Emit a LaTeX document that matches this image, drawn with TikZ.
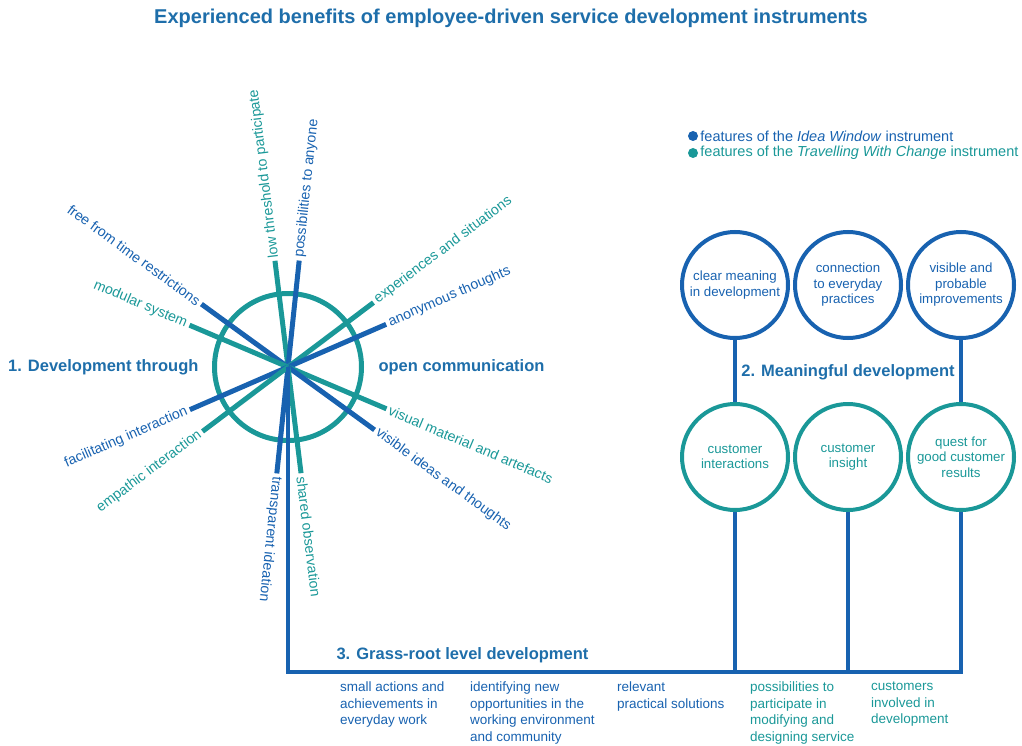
\documentclass[tikz,border=0pt]{standalone}
\usepackage{fontspec}
\setmainfont{Liberation Sans}
\definecolor{iwblue}{RGB}{24,98,176}
\definecolor{twcteal}{RGB}{26,152,152}
\definecolor{headblue}{RGB}{30,110,170}

\begin{document}
\begin{tikzpicture}[x=1pt,y=1pt,line cap=butt,
  lbl/.style={font=\fontsize{13.5}{16.5}\selectfont,inner sep=2pt},
  ray/.style={font=\fontsize{14.2}{17}\selectfont,inner sep=3pt},
  head/.style={font=\fontsize{16.5}{20}\selectfont\bfseries,text=headblue},
  benefit/.style={circle,draw,line width=4pt,minimum size=106pt,inner sep=0pt,align=center,font=\fontsize{13.3}{15.5}\selectfont},
  spoke/.style={line width=5pt}]
\useasboundingbox (0,0) rectangle (1022,-746);
\def\R{73.5}\def\L{107}
\node[font=\fontsize{20}{24}\selectfont\bfseries,text=headblue] (title) at (511,-18) {Experienced benefits of employee-driven service development instruments};
% legend
\node[circle,fill=iwblue,inner sep=0pt,minimum size=10pt] (dotIW) at (693,-136) {};
\node[circle,fill=twcteal,inner sep=0pt,minimum size=10pt] (dotTWC) at (693,-153) {};
\node[lbl,font=\fontsize{14.5}{17}\selectfont,anchor=west,text=iwblue] (keyIW) at (dotIW.east) {features of the \textit{Idea Window} instrument};
\node[lbl,font=\fontsize{14.5}{17}\selectfont,anchor=west,text=twcteal] (keyTWC) at (dotTWC.east) {features of the \textit{Travelling With Change} instrument};
% 1. wheel
\coordinate (hub) at (288,-367);
\coordinate (barL) at (288,-672);
\draw[twcteal,line width=5pt] (hub) circle (\R);
\foreach \n/\a/\c/\t in {1/97/twcteal/low threshold to participate,2/84/iwblue/possibilities to anyone,3/37/twcteal/experiences and situations,4/23.5/iwblue/anonymous thoughts,5/-23/twcteal/visual material and artefacts,6/-36/iwblue/visible ideas and thoughts,7/-83/twcteal/shared observation,8/-96/iwblue/transparent ideation}{
  \path (hub) ++(\a:\L) coordinate (s\n);
  \draw[spoke,\c] (hub) -- (s\n);
  \node[ray,text=\c,anchor=west,rotate=\a] (t\n) at (s\n) {\t};
}
\foreach \n/\a/\c/\t in {9/144/iwblue/free from time restrictions,10/157/twcteal/modular system,11/203.5/iwblue/facilitating interaction,12/217/twcteal/empathic interaction}{
  \path (hub) ++(\a:\L) coordinate (s\n);
  \draw[spoke,\c] (hub) -- (s\n);
  \node[ray,text=\c,anchor=east,rotate=\a-180] (t\n) at (s\n) {\t};
}
\node[head,anchor=east] (dev1a) at (202,-367) {1. Development through};
\node[head,anchor=west] (dev1b) at (375,-367) {open communication};
% 2. circles
\node[benefit,draw=iwblue,text=iwblue] (b1) at (735,-285) {clear meaning\\in development};
\node[benefit,draw=iwblue,text=iwblue] (b2) at (848,-285) {connection\\to everyday\\practices};
\node[benefit,draw=iwblue,text=iwblue] (b3) at (961,-285) {visible and\\probable\\improvements};
\node[benefit,draw=twcteal,text=twcteal] (b4) at (735,-457) {customer\\interactions};
\node[benefit,draw=twcteal,text=twcteal] (b5) at (848,-457) {customer\\insight};
\node[benefit,draw=twcteal,text=twcteal] (b6) at (961,-457) {quest for\\good customer\\results};
\draw[iwblue,line width=4pt] (b1.south) -- (b4.north) (b3.south) -- (b6.north);
\node[head] (dev2) at (848,-372) {2. Meaningful development};
% 3. grass-root bar
\draw[iwblue,line width=4pt] (hub) -- (barL) -- (b6 |- barL) -- (b6.south);
\draw[iwblue,line width=4pt] (b4.south) -- (b4 |- barL) (b5.south) -- (b5 |- barL);
\node[head,anchor=west] (dev3) at (333,-655) {3. Grass-root level development};
\node[lbl,anchor=north west,align=left,text=iwblue] (g1) at (338,-680) {small actions and\\achievements in\\everyday work};
\node[lbl,anchor=north west,align=left,text=iwblue] (g2) at (468,-680) {identifying new\\opportunities in the\\working environment\\and community};
\node[lbl,anchor=north west,align=left,text=iwblue] (g3) at (615,-680) {relevant\\practical solutions};
\node[lbl,anchor=north west,align=left,text=twcteal] (g4) at (748,-680) {possibilities to\\participate in\\modifying and\\designing service};
\node[lbl,anchor=north west,align=left,text=twcteal] (g5) at (869,-680) {customers\\involved in\\development};
\end{tikzpicture}
\end{document}
